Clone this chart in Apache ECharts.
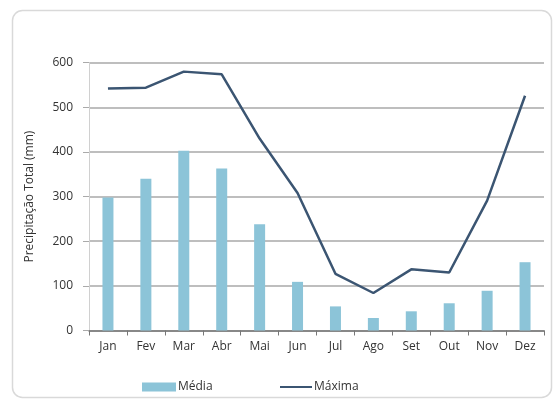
<!DOCTYPE html>
<html>
<head>
<meta charset="utf-8">
<script src="https://cdn.jsdelivr.net/npm/echarts@6/dist/echarts.min.js"></script>
<style>html,body{margin:0;padding:0;background:#fff;}#c{width:556px;height:403px;}</style>
</head>
<body>
<div id="c"></div>
<script>
const categories = ['Jan','Fev','Mar','Abr','Mai','Jun','Jul','Ago','Set','Out','Nov','Dez'];
const media = [298, 340, 403, 363, 238, 109, 54, 28, 43, 61, 89, 153];
const maxima = [542, 544, 580, 574, 430, 308, 127, 84, 137, 130, 291, 526];
const yTicks = [0, 100, 200, 300, 400, 500, 600];
const seriesNames = ['Média', 'Máxima'];
const yTitle = 'Precipitação Total (mm)';

const font = 'Open Sans';
const chart = echarts.init(document.getElementById('c'), null, {renderer: 'canvas'});
chart.setOption({
  animation: false,
  backgroundColor: '#ffffff',
  textStyle: {fontFamily: font},
  graphic: [{
    type: 'rect',
    shape: {x: 12.5, y: 10.5, width: 539, height: 387, r: 10},
    style: {fill: 'none', stroke: '#d9d9d9', lineWidth: 1.5},
    z: -1
  }],
  grid: {left: 89, right: 12, top: 62.7, bottom: 72.5, containLabel: false},
  legend: [{
    data: [seriesNames[0]],
    left: 137, top: 376,
    itemWidth: 34, itemHeight: 9, itemGap: 0,
    icon: 'rect',
    textStyle: {fontFamily: font, fontSize: 12, color: '#333', padding: [0,0,0,-3]}
  }, {
    data: [seriesNames[1]],
    left: 275, top: 376,
    itemWidth: 32, itemHeight: 2, itemGap: 0,
    icon: 'rect',
    textStyle: {fontFamily: font, fontSize: 12, color: '#333', padding: [0,0,0,-3]}
  }],
  xAxis: {
    type: 'category',
    data: categories,
    boundaryGap: true,
    axisLine: {lineStyle: {color: '#777', width: 1.5}},
    axisTick: {show: true, length: 5, lineStyle: {color: '#777'}},
    axisLabel: {color: '#333', fontSize: 12, margin: 10, fontFamily: font},
    splitLine: {show: false}
  },
  yAxis: {
    type: 'value',
    min: yTicks[0], max: yTicks[yTicks.length - 1], interval: 100,
    name: yTitle,
    nameLocation: 'middle',
    nameGap: 53,
    nameRotate: 90,
    nameTextStyle: {color: '#333', fontSize: 12, fontFamily: font},
    axisLine: {show: true, lineStyle: {color: '#d0d0d0'}},
    axisTick: {show: true, length: 6, lineStyle: {color: '#aaa'}},
    axisLabel: {color: '#333', fontSize: 12, margin: 16, fontFamily: font},
    splitLine: {show: true, lineStyle: {color: '#a8a8a8', width: 1.5}}
  },
  series: [{
    name: seriesNames[0],
    type: 'bar',
    data: media,
    barWidth: 11,
    itemStyle: {color: '#8cc4d8'}
  }, {
    name: seriesNames[1],
    type: 'line',
    data: maxima,
    symbol: 'none',
    lineStyle: {color: '#3b5572', width: 2.5},
    itemStyle: {color: '#3b5572'}
  }]
});
</script>
</body>
</html>
